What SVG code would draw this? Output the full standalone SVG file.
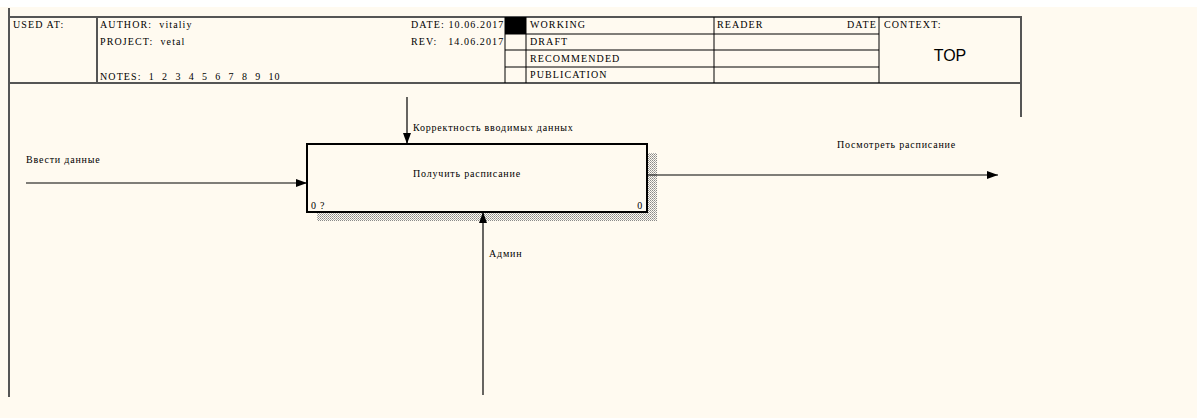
<svg xmlns="http://www.w3.org/2000/svg" width="1197" height="418" viewBox="0 0 1197 418">
<style>
.t{font-family:"Liberation Serif","DejaVu Serif",serif;font-size:10px;letter-spacing:1.1px;fill:#000;white-space:pre}
.s{font-family:"Liberation Serif","DejaVu Serif",serif;font-size:10px;letter-spacing:0.8px;fill:#000}
.hl{stroke:#555;stroke-width:2;fill:none}
.gl{stroke:#000;stroke-width:1;fill:none}
.ar{stroke:#000;stroke-width:1.2;fill:none}
</style>
<defs>
<pattern id="hatch" width="2" height="2" patternUnits="userSpaceOnUse">
<rect width="2" height="2" fill="#fffaf0"/>
<rect x="0" y="0" width="1" height="1" fill="#888"/>
<rect x="1" y="1" width="1" height="1" fill="#aaa"/>
</pattern>
<marker id="ah" markerWidth="12" markerHeight="8" refX="11" refY="4" orient="auto" markerUnits="userSpaceOnUse">
<path d="M0,0 L11,4 L0,8 Z" fill="#000"/>
</marker>
</defs>
<rect x="0" y="0" width="1197" height="418" fill="#fff"/>
<rect x="0" y="7" width="1197" height="411" fill="#fffaf0"/>
<g id="frame">
<line class="hl" x1="9" y1="8" x2="9" y2="397"/>
<line class="hl" x1="8" y1="17" x2="1022" y2="17"/>
<line class="hl" x1="8" y1="83" x2="1022" y2="83"/>
<line class="hl" x1="1021" y1="16" x2="1021" y2="117"/>
<line class="hl" x1="97" y1="17" x2="97" y2="83"/>
<line class="gl" x1="505" y1="17" x2="505" y2="83"/>
<line class="gl" x1="526" y1="17" x2="526" y2="83"/>
<line class="gl" x1="714" y1="17" x2="714" y2="83"/>
<line class="gl" x1="879" y1="17" x2="879" y2="83"/>
<line class="gl" x1="505" y1="34" x2="879" y2="34"/>
<line class="gl" x1="505" y1="50" x2="879" y2="50"/>
<line class="gl" x1="505" y1="67" x2="879" y2="67"/>
<rect x="505" y="17" width="21" height="17" fill="#000"/>
<text class="t" x="13" y="28">USED AT:</text>
<text class="t" x="100" y="28">AUTHOR:  vitaliy</text>
<text class="t" x="100" y="45">PROJECT:  vetal</text>
<text class="t" x="100" y="80">NOTES:  1  2  3  4  5  6  7  8  9  10</text>
<text class="t" x="411" y="28">DATE: 10.06.2017</text>
<text class="t" x="411" y="45">REV:   14.06.2017</text>
<text class="t" x="530" y="28">WORKING</text>
<text class="t" x="530" y="45">DRAFT</text>
<text class="t" x="530" y="62">RECOMMENDED</text>
<text class="t" x="530" y="78">PUBLICATION</text>
<text class="t" x="717" y="28">READER</text>
<text class="t" x="877" y="28" text-anchor="end">DATE</text>
<text class="t" x="884" y="28">CONTEXT:</text>
<text x="950" y="61" text-anchor="middle" style="font-family:'Liberation Sans',Arial,sans-serif;font-size:16px">TOP</text>
</g>
<g id="node-A0">
<rect x="647" y="153" width="10" height="68" fill="url(#hatch)"/>
<rect x="317" y="212" width="340" height="9" fill="url(#hatch)"/>
<rect x="307" y="144" width="340" height="68" fill="#fffaf0" stroke="#000" stroke-width="2"/>
<text class="s" x="467" y="177" text-anchor="middle">Получить расписание</text>
<text class="s" x="311" y="209">0 ?</text>
<text class="s" x="643" y="209" text-anchor="end">0</text>
</g>
<g id="connectors">
<line class="ar" x1="26" y1="183" x2="307" y2="183" marker-end="url(#ah)"/>
<text class="s" x="26" y="163">Ввести данные</text>
<line class="ar" x1="407" y1="97" x2="407" y2="144" marker-end="url(#ah)"/>
<text class="s" x="413" y="131">Корректность вводимых данных</text>
<line class="ar" x1="647" y1="175" x2="998" y2="175" marker-end="url(#ah)"/>
<text class="s" x="837" y="148">Посмотреть расписание</text>
<line class="ar" x1="483" y1="395" x2="483" y2="212" marker-end="url(#ah)"/>
<text class="s" x="489" y="257">Админ</text>
</g>
</svg>
